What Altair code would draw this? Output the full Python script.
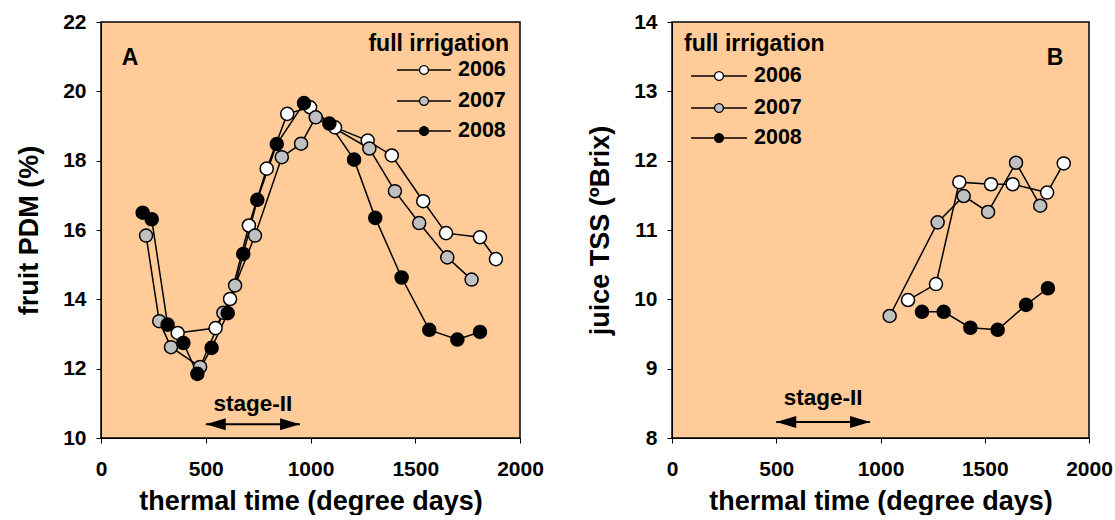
import altair as alt
import pandas as pd

# ---------------- data ----------------
years = ["2006", "2007", "2008"]
fills = ["#FFFFFF", "#C0C0C0", "#000000"]

# Panel A: fruit PDM (%)
a_t_2006 = [366, 547, 616, 706, 791, 889, 998, 1117, 1273, 1388, 1538, 1647, 1809, 1885]
a_v_2006 = [13.03, 13.17, 14.01, 16.13, 17.77, 19.35, 19.54, 18.96, 18.58, 18.15, 16.83, 15.91, 15.79, 15.16]
a_t_2007 = [215, 278, 334, 473, 584, 640, 735, 863, 955, 1025, 1281, 1403, 1519, 1653, 1769]
a_v_2007 = [15.84, 13.37, 12.62, 12.05, 13.61, 14.40, 15.84, 18.10, 18.49, 19.25, 18.35, 17.12, 16.20, 15.21, 14.57]
a_t_2008 = [199, 242, 318, 393, 460, 528, 605, 679, 746, 839, 969, 1090, 1208, 1309, 1435, 1567, 1701, 1809]
a_v_2008 = [16.50, 16.31, 13.27, 12.74, 11.85, 12.60, 13.60, 15.31, 16.87, 18.48, 19.66, 19.07, 18.03, 16.35, 14.63, 13.12, 12.84, 13.06]

# Panel B: juice TSS (ºBrix)
b_t_2006 = [1132, 1266, 1378, 1530, 1634, 1799, 1879]
b_v_2006 = [9.99, 10.22, 11.69, 11.66, 11.66, 11.54, 11.96]
b_t_2007 = [1044, 1274, 1399, 1516, 1650, 1766]
b_v_2007 = [9.76, 11.11, 11.49, 11.26, 11.97, 11.35]
b_t_2008 = [1199, 1303, 1431, 1562, 1698, 1803]
b_v_2008 = [9.82, 9.82, 9.59, 9.56, 9.92, 10.16]

x_ticks = [0, 500, 1000, 1500, 2000]
a_y_ticks = [10, 12, 14, 16, 18, 20, 22]
b_y_ticks = [8, 9, 10, 11, 12, 13, 14]

stage_label = "stage-II"
stage_start = 500
stage_end = 950

FONT = "Liberation Sans"


def make_df(ts, vs):
    rows = []
    for yr, t_list, v_list in zip(years, ts, vs):
        for i, (t, v) in enumerate(zip(t_list, v_list)):
            rows.append({"t": t, "v": v, "year": yr, "idx": i})
    return pd.DataFrame(rows)


def panel(df, y_domain, y_ticks, y_title, width, letter, letter_xy,
          leg_title_xy, leg_title_align, leg_x, leg_rows,
          stage_y_text, stage_y_arrow):
    x = alt.X("t:Q", scale=alt.Scale(domain=[0, 2000], nice=False, zero=False),
              axis=alt.Axis(values=x_ticks, title="thermal time (degree days)", format="d",
                            labelFlush=False))
    y = alt.Y("v:Q", scale=alt.Scale(domain=y_domain, nice=False, zero=False),
              axis=alt.Axis(values=y_ticks, title=y_title, format="d", labelFlush=False))

    lines = alt.Chart(df).mark_line(color="black", strokeWidth=1.5).encode(
        x=x, y=y, detail="year:N", order="idx:Q")
    pts = alt.Chart(df).mark_circle(size=170, stroke="black", strokeWidth=1.5, opacity=1).encode(
        x=x, y=y,
        fill=alt.Fill("year:N", scale=alt.Scale(domain=years, range=fills), legend=None))

    layers = [lines, pts]

    # stage-II annotation in data coordinates
    one = pd.DataFrame({"a": [stage_start], "b": [stage_end],
                        "m": [(stage_start + stage_end) / 2],
                        "ya": [stage_y_arrow], "yt": [stage_y_text], "lab": [stage_label]})
    xs = alt.Scale(domain=[0, 2000], nice=False, zero=False)
    ys = alt.Scale(domain=y_domain, nice=False, zero=False)
    layers.append(alt.Chart(one).mark_rule(color="black", strokeWidth=2).encode(
        x=alt.X("a:Q", scale=xs), x2="b:Q", y=alt.Y("ya:Q", scale=ys)))
    layers.append(alt.Chart(one).mark_point(
        shape="M 0 0 L 4 -1.2 L 4 1.2 Z", size=100, filled=True, color="black", opacity=1).encode(
        x=alt.X("a:Q", scale=xs), y=alt.Y("ya:Q", scale=ys)))
    layers.append(alt.Chart(one).mark_point(
        shape="M 0 0 L -4 -1.2 L -4 1.2 Z", size=100, filled=True, color="black", opacity=1).encode(
        x=alt.X("b:Q", scale=xs), y=alt.Y("ya:Q", scale=ys)))
    layers.append(alt.Chart(one).mark_text(
        font=FONT, fontWeight="bold", fontSize=22.5, color="black", baseline="middle").encode(
        x=alt.X("m:Q", scale=xs), y=alt.Y("yt:Q", scale=ys), text="lab:N"))

    # panel letter
    single = pd.DataFrame({"k": [letter]})
    layers.append(alt.Chart(single).mark_text(
        font=FONT, fontWeight="bold", fontSize=23, color="black", baseline="middle").encode(
        x=alt.value(letter_xy[0]), y=alt.value(letter_xy[1]), text="k:N"))

    # legend
    lt = pd.DataFrame({"k": ["full irrigation"]})
    layers.append(alt.Chart(lt).mark_text(
        font=FONT, fontWeight="bold", fontSize=23, color="black", baseline="middle",
        align=leg_title_align).encode(
        x=alt.value(leg_title_xy[0]), y=alt.value(leg_title_xy[1]), text="k:N"))
    for yr, fc, ry in zip(years, fills, leg_rows):
        d = pd.DataFrame({"k": [yr]})
        layers.append(alt.Chart(d).mark_rule(color="black", strokeWidth=1.5).encode(
            x=alt.value(leg_x[0]), x2=alt.value(leg_x[1]), y=alt.value(ry)))
        layers.append(alt.Chart(d).mark_circle(size=80, stroke="black", strokeWidth=1.3,
                                               fill=fc, opacity=1).encode(
            x=alt.value((leg_x[0] + leg_x[1]) / 2), y=alt.value(ry)))
        layers.append(alt.Chart(d).mark_text(
            font=FONT, fontWeight="bold", fontSize=21.5, color="black", baseline="middle",
            align="left").encode(
            x=alt.value(leg_x[1] + 7), y=alt.value(ry), text="k:N"))

    return alt.layer(*layers).properties(width=width, height=416)


dfA = make_df([a_t_2006, a_t_2007, a_t_2008], [a_v_2006, a_v_2007, a_v_2008])
dfB = make_df([b_t_2006, b_t_2007, b_t_2008], [b_v_2006, b_v_2007, b_v_2008])

A = panel(dfA, [10, 22], a_y_ticks, "fruit PDM (%)", 419, "A", (29, 36),
          (408, 22), "right", (296, 350), [48, 79, 109], 10.97, 10.40)
B = panel(dfB, [8, 14], b_y_ticks, "juice TSS (ºBrix)", 417, "B", (383, 36),
          (12, 22), "left", (19, 75), [54, 86, 116], 8.57, 8.23)

chart = alt.hconcat(A, B, spacing=40).properties(
    padding={"left": 14, "top": 10, "right": 0, "bottom": 0}
).configure_view(
    fill="#FFCC99", stroke="black", strokeWidth=1.5
).configure_axis(
    grid=False, domainColor="black", domainWidth=1, tickColor="black", tickSize=5,
    labelFont=FONT, labelFontWeight="bold", labelFontSize=21, labelColor="black",
    labelPadding=10,
    titleFont=FONT, titleFontWeight="bold", titleFontSize=27, titleColor="black"
).configure_axisX(labelPadding=15, titlePadding=9
).configure_axisY(titlePadding=19)

chart.save("out.html", embed_options={"renderer": "svg", "actions": False})
